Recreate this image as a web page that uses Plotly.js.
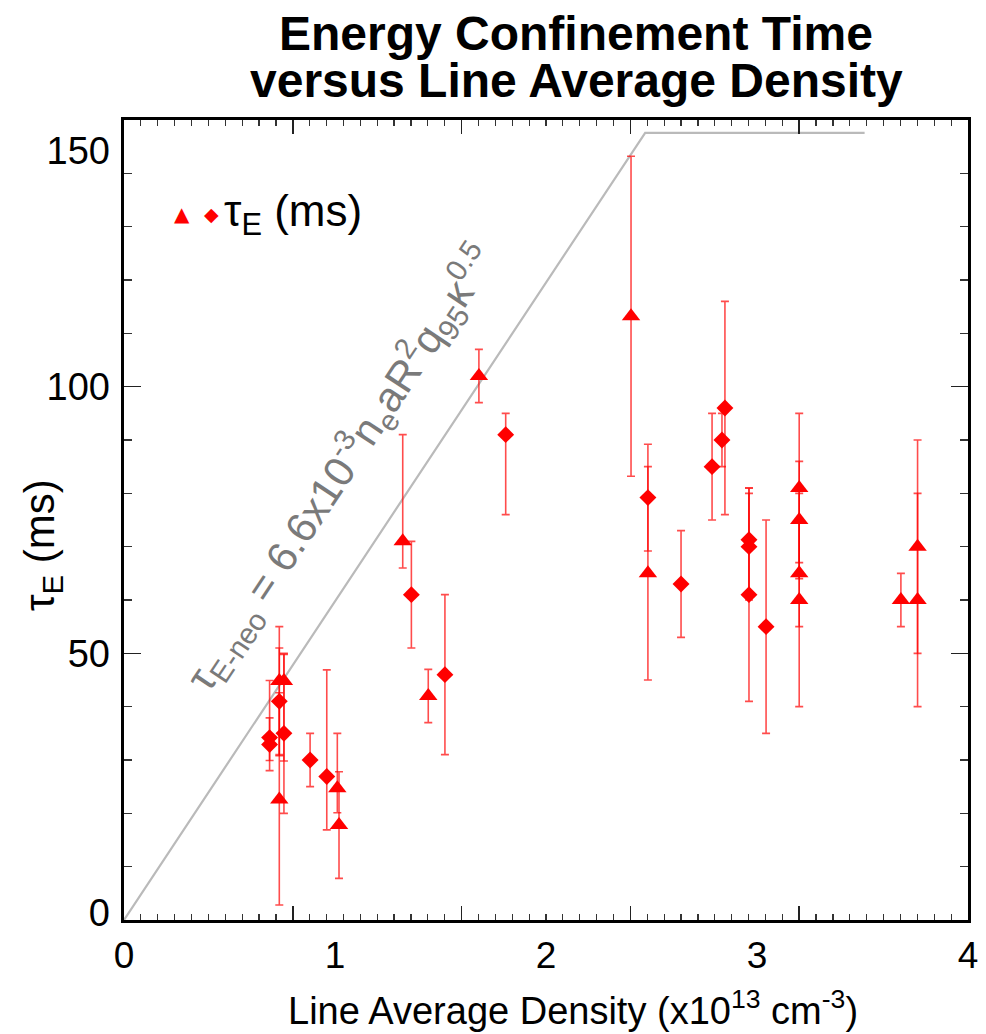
<!DOCTYPE html>
<html>
<head>
<meta charset="utf-8">
<script src="https://cdn.plot.ly/plotly-3.0.1.min.js"></script>
<style>html,body{margin:0;padding:0;background:#fff;}#chart{width:986px;height:1034px;}</style>
</head>
<body>
<div id="chart"></div>
<script>
// ---- data ----
const triX = [0.736, 0.736, 0.758, 1.011, 1.019, 1.321, 1.442, 1.682, 2.403, 2.483, 3.200, 3.200, 3.200, 3.200, 3.682, 3.761, 3.761];
const triY = [44.8, 22.6, 44.8, 24.7, 17.8, 71.0, 42.0, 102.0, 113.2, 65.0, 81.0, 75.0, 65.0, 60.0, 60.0, 70.0, 60.0];
const triErrUp = [10.2, 20, 5, 10.3, 10, 20, 5, 5, 30, 20, 14, 11, 10, 20, 5, 20, 20];
const triErrDown = [14, 19.8, 15, 4.6, 10, 5, 5, 5, 30, 20, 14, 11, 10, 20, 5, 20, 20];

const diaX = [0.690, 0.690, 0.736, 0.758, 0.882, 0.961, 1.362, 1.521, 1.809, 2.483, 2.640, 2.787, 2.834, 2.848, 2.962, 2.962, 2.962, 3.043];
const diaY = [34.2, 32.9, 41.0, 35.0, 30.0, 26.9, 61.0, 46.0, 91.0, 79.2, 63.0, 85.0, 90.0, 96.0, 71.3, 70.0, 61.0, 55.0];
const diaErrUp = [10.7, 5, 10, 15, 5, 20, 10, 15, 4, 10, 10, 10, 5, 20, 9.7, 10, 20, 20];
const diaErrDown = [4.3, 4.9, 10, 15, 5, 10, 10, 15, 15, 10, 10, 10, 5, 20, 10, 10, 20, 20];

const neoX = [0, 2.47, 3.51];
const neoY = [0, 147.6, 147.6];

const xLabelVals = [0, 1, 2, 3, 4];
const xLabelText = ['0', '1', '2', '3', '4'];
const yLabelVals = [1.3, 50, 100, 144.2];
const yLabelText = ['0', '50', '100', '150'];

const FONT = 'Liberation Sans, Arial, Helvetica, sans-serif';
const RED = '#ff0000';
const ERR = 'rgba(255,0,0,0.7)';

const traces = [
  {x: neoX, y: neoY, mode: 'lines', line: {color: '#bababa', width: 2.2}, hoverinfo: 'skip', showlegend: false},
  {x: triX, y: triY, mode: 'markers', type: 'scatter', showlegend: false,
   marker: {symbol: 'triangle-up', size: 16, color: RED},
   error_y: {type: 'data', symmetric: false, array: triErrUp, arrayminus: triErrDown, color: ERR, thickness: 1.6, width: 4}},
  {x: diaX, y: diaY, mode: 'markers', type: 'scatter', showlegend: false,
   marker: {symbol: 'diamond', size: 13, color: RED},
   error_y: {type: 'data', symmetric: false, array: diaErrUp, arrayminus: diaErrDown, color: ERR, thickness: 1.6, width: 4}},
  {x: [], y: [], xaxis: 'x2', yaxis: 'y2', showlegend: false, hoverinfo: 'skip'}
];

const px2paperX = p => (p - 124) / 844;
const px2paperY = p => (920 - p) / 800;

const layout = {
  width: 986, height: 1034,
  margin: {l: 124, r: 18, t: 120, b: 114},
  paper_bgcolor: '#fff', plot_bgcolor: '#fff',
  showlegend: false,
  font: {family: FONT, color: '#000'},
  xaxis: {
    range: [0, 4], showgrid: false, zeroline: false,
    showline: true, linewidth: 3, linecolor: '#000', mirror: 'ticks',
    ticks: 'inside', tick0: 0, dtick: 0.8, ticklen: 14, tickwidth: 1.5, tickcolor: '#222',
    minor: {ticks: 'inside', dtick: 0.08, tick0: 0, ticklen: 6, tickwidth: 1.2, tickcolor: '#333', showgrid: false},
    showticklabels: false, fixedrange: true
  },
  yaxis: {
    range: [0, 150], showgrid: false, zeroline: false,
    showline: true, linewidth: 3, linecolor: '#000', mirror: 'ticks',
    ticks: 'inside', tickvals: [0, 50, 100, 150], ticklen: 17, tickwidth: 1.5, tickcolor: '#222',
    minor: {ticks: 'inside', dtick: 10, tick0: 0, ticklen: 8, tickwidth: 1.2, tickcolor: '#333', showgrid: false},
    showticklabels: false, fixedrange: true
  },
  xaxis2: {
    overlaying: 'x', anchor: 'y2', side: 'bottom', range: [0, 4],
    showgrid: false, zeroline: false, showline: false, ticks: '',
    tickvals: xLabelVals, ticktext: xLabelText, ticklabelstandoff: 10,
    tickfont: {size: 37, family: FONT, color: '#000'}, fixedrange: true
  },
  yaxis2: {
    overlaying: 'y', anchor: 'x2', side: 'left', range: [0, 150],
    showgrid: false, zeroline: false, showline: false, ticks: '',
    tickvals: yLabelVals, ticktext: yLabelText, ticklabelstandoff: 13,
    tickfont: {size: 38, family: FONT, color: '#000'}, fixedrange: true
  },
  annotations: [
    {text: 'Energy Confinement Time', xref: 'paper', yref: 'paper', x: px2paperX(576), y: px2paperY(33),
     xanchor: 'center', yanchor: 'middle', showarrow: false, font: {size: 48, family: FONT, weight: 'bold', color: '#000'}},
    {text: 'versus Line Average Density', xref: 'paper', yref: 'paper', x: px2paperX(576), y: px2paperY(81),
     xanchor: 'center', yanchor: 'middle', showarrow: false, font: {size: 48, family: FONT, weight: 'bold', color: '#000'}},
    {text: 'Line Average Density (x10<sup>13</sup> cm<sup>-3</sup>)', xref: 'paper', yref: 'paper', x: px2paperX(573), y: px2paperY(1008),
     xanchor: 'center', yanchor: 'middle', showarrow: false, font: {size: 38, family: FONT, color: '#000'}},
    {text: 'τ<sub>E</sub> (ms)', xref: 'paper', yref: 'paper', x: px2paperX(42), y: px2paperY(545), textangle: -90,
     xanchor: 'center', yanchor: 'middle', showarrow: false, font: {size: 42, family: FONT, color: '#000'}},
    {text: '▲', xref: 'paper', yref: 'paper', x: px2paperX(182), y: px2paperY(214),
     xanchor: 'center', yanchor: 'middle', showarrow: false, font: {size: 20, family: 'DejaVu Sans', color: RED}},
    {text: '◆', xref: 'paper', yref: 'paper', x: px2paperX(211), y: px2paperY(214),
     xanchor: 'center', yanchor: 'middle', showarrow: false, font: {size: 19, family: 'DejaVu Sans', color: RED}},
    {text: 'τ<sub>E</sub> (ms)', xref: 'paper', yref: 'paper', x: px2paperX(222), y: px2paperY(214),
     xanchor: 'left', yanchor: 'middle', showarrow: false, font: {size: 44, family: FONT, color: '#000'}},
    {text: 'τ<sub>E-neo</sub> = 6.6x10<sup>-3</sup>n<sub>e</sub>aR<sup>2</sup>q<sub>95</sub>κ<sup>0.5</sup>',
     xref: 'paper', yref: 'paper', x: px2paperX(340), y: px2paperY(468), textangle: -56.4,
     xanchor: 'center', yanchor: 'middle', showarrow: false, font: {size: 42, family: FONT, color: '#7a7a7a'}}
  ]
};

Plotly.newPlot('chart', traces, layout, {displayModeBar: false, staticPlot: true});
</script>
</body>
</html>
